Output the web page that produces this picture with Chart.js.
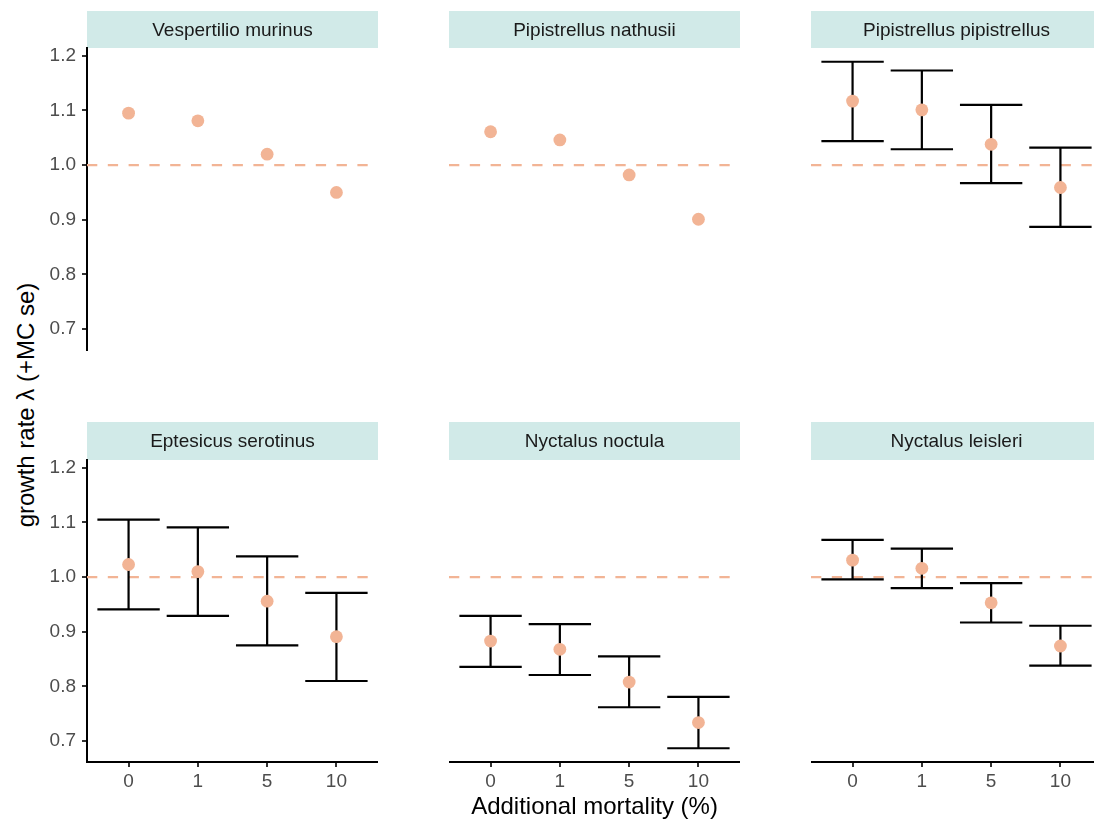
<!DOCTYPE html>
<html>
<head>
<meta charset="utf-8">
<script src="https://cdn.jsdelivr.net/npm/chart.js@4.4.0/dist/chart.umd.min.js"></script>
<style>
  html, body { margin: 0; padding: 0; background: #fff; overflow: hidden; }
  body { width: 1094px; height: 823px; position: relative; font-family: "Liberation Sans", Arial, sans-serif; }
  canvas { position: absolute; }
  #ytitle {
    position: absolute; left: 26px; top: 405px;
    transform: translate(-50%, -50%) rotate(-90deg);
    font-size: 24px; color: #000; white-space: nowrap;
  }
</style>
</head>
<body>
<div id="ytitle">growth rate λ (+MC se)</div>
<script>
const mortality = ['0', '1', '5', '10'];
const species = [
  'Vespertilio murinus', 'Pipistrellus nathusii', 'Pipistrellus pipistrellus',
  'Eptesicus serotinus', 'Nyctalus noctula', 'Nyctalus leisleri'
];

// growth rate per mortality level, with MC se bounds where available
const murinusMean = [1.095, 1.081, 1.020, 0.950];
const nathusiiMean = [1.061, 1.046, 0.982, 0.901];
const pipistrellusMean = [1.117, 1.101, 1.038, 0.959];
const pipistrellusLo = [1.044, 1.029, 0.967, 0.887];
const pipistrellusHi = [1.189, 1.173, 1.110, 1.032];
const serotinusMean = [1.023, 1.010, 0.956, 0.891];
const serotinusLo = [0.941, 0.929, 0.875, 0.810];
const serotinusHi = [1.105, 1.091, 1.038, 0.971];
const noctulaMean = [0.883, 0.868, 0.808, 0.734];
const noctulaLo = [0.836, 0.821, 0.762, 0.687];
const noctulaHi = [0.929, 0.914, 0.855, 0.781];
const leisleriMean = [1.031, 1.016, 0.953, 0.874];
const leisleriLo = [0.996, 0.980, 0.917, 0.838];
const leisleriHi = [1.068, 1.052, 0.989, 0.911];

const refLambda = 1.0;
const yTicks = [0.7, 0.8, 0.9, 1.0, 1.1, 1.2];

const panels = [
  { mean: murinusMean, lo: null, hi: null },
  { mean: nathusiiMean, lo: null, hi: null },
  { mean: pipistrellusMean, lo: pipistrellusLo, hi: pipistrellusHi },
  { mean: serotinusMean, lo: serotinusLo, hi: serotinusHi },
  { mean: noctulaMean, lo: noctulaLo, hi: noctulaHi },
  { mean: leisleriMean, lo: leisleriLo, hi: leisleriHi }
];

const FONT = '"Liberation Sans", Arial, sans-serif';
const SALMON = '#F2B495';
const STRIP = '#D1EAE8';

// shared y range, padded 5% like ggplot
const allVals = panels.flatMap(p => [...p.mean, ...(p.lo || []), ...(p.hi || [])]);
const yLo = Math.min(...allVals);
const yHi = Math.max(...allVals);
const yPad = (yHi - yLo) * 0.05;

const colLeft = [87, 449, 811];
const rowTop = [11, 422];
const stripH = [37, 38];
const panelW = 291;
const panelH = 302;
const yAxisW = 60;
const xAxisH = 61;

function facetDecor(title, p) {
  return {
    id: 'facetDecor',
    beforeDraw(chart) {
      const { ctx, chartArea: a } = chart;
      const h = chart.options.layout.padding.top;
      ctx.save();
      ctx.fillStyle = STRIP;
      ctx.fillRect(a.left, a.top - h, a.right - a.left, h);
      ctx.fillStyle = '#1a1a1a';
      ctx.font = '19px ' + FONT;
      ctx.textAlign = 'center';
      ctx.textBaseline = 'middle';
      ctx.fillText(title, (a.left + a.right) / 2, a.top - h / 2 + 1);
      ctx.restore();
    },
    beforeDatasetsDraw(chart) {
      const { ctx, chartArea: a, scales: { x, y } } = chart;
      ctx.save();
      // dashed reference line at lambda = 1
      const yr = y.getPixelForValue(refLambda);
      ctx.strokeStyle = SALMON;
      ctx.lineWidth = 2.2;
      ctx.setLineDash([10.3, 10.5]);
      ctx.beginPath();
      ctx.moveTo(a.left, yr);
      ctx.lineTo(a.right, yr);
      ctx.stroke();
      ctx.setLineDash([]);
      // error bars
      if (p.lo) {
        ctx.strokeStyle = '#000';
        ctx.lineWidth = 2.2;
        ctx.beginPath();
        p.mean.forEach((_, i) => {
          const xc = x.getPixelForValue(i + 1);
          const xl = x.getPixelForValue(i + 1 - 0.45);
          const xr = x.getPixelForValue(i + 1 + 0.45);
          const yl = y.getPixelForValue(p.lo[i]);
          const yh = y.getPixelForValue(p.hi[i]);
          ctx.moveTo(xc, yh); ctx.lineTo(xc, yl);
          ctx.moveTo(xl, yh); ctx.lineTo(xr, yh);
          ctx.moveTo(xl, yl); ctx.lineTo(xr, yl);
        });
        ctx.stroke();
      }
      ctx.restore();
    }
  };
}

panels.forEach((p, k) => {
  const row = Math.floor(k / 3);
  const col = k % 3;
  const showX = row === 1;
  const showY = col === 0;
  const padBottom = showX ? 0 : 20;
  const w = panelW + (showY ? yAxisW : 0);
  const h = stripH[row] + panelH + (showX ? xAxisH : padBottom);

  const canvas = document.createElement('canvas');
  canvas.width = w;
  canvas.height = h;
  canvas.style.left = (colLeft[col] - (showY ? yAxisW : 0)) + 'px';
  canvas.style.top = rowTop[row] + 'px';
  document.body.appendChild(canvas);

  new Chart(canvas.getContext('2d'), {
    type: 'scatter',
    data: {
      datasets: [{
        data: p.mean.map((v, i) => ({ x: i + 1, y: v })),
        backgroundColor: SALMON,
        borderWidth: 0,
        pointRadius: 6.4,
        pointHoverRadius: 6.4
      }]
    },
    options: {
      responsive: false,
      animation: false,
      events: [],
      layout: { autoPadding: false, padding: { top: stripH[row], bottom: padBottom, left: 0, right: 0 } },
      plugins: { legend: { display: false }, tooltip: { enabled: false } },
      scales: {
        x: {
          type: 'linear',
          min: 0.4,
          max: 4.6,
          display: showX,
          afterBuildTicks: s => { s.ticks = mortality.map((_, i) => ({ value: i + 1 })); },
          afterFit: s => { s.height = showX ? xAxisH : 0; },
          ticks: {
            callback: (v, i) => mortality[i],
            color: '#4d4d4d',
            font: { size: 19, family: FONT },
            padding: 3,
            maxRotation: 0,
            autoSkip: false
          },
          grid: { display: true, drawOnChartArea: false, drawTicks: true, tickLength: 5, color: '#333', lineWidth: 2 },
          border: { display: true, color: '#000', width: 2 },
          title: {
            display: col === 1,
            text: 'Additional mortality (%)',
            color: '#000',
            font: { size: 24, family: FONT },
            padding: { top: 0, bottom: 1.6 }
          }
        },
        y: {
          type: 'linear',
          min: yLo - yPad,
          max: yHi + yPad,
          display: showY,
          afterBuildTicks: s => { s.ticks = yTicks.map(v => ({ value: v })); },
          afterFit: s => { s.width = showY ? yAxisW : 0; },
          ticks: {
            callback: v => v.toFixed(1),
            color: '#4d4d4d',
            font: { size: 19, family: FONT },
            padding: 6
          },
          grid: { display: true, drawOnChartArea: false, drawTicks: true, tickLength: 5, color: '#333', lineWidth: 2 },
          border: { display: true, color: '#000', width: 2 }
        }
      }
    },
    plugins: [facetDecor(species[k], p)]
  });
});
</script>
</body>
</html>
